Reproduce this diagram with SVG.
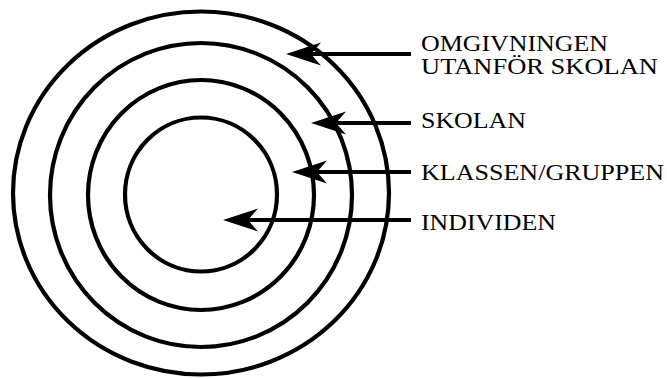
<svg xmlns="http://www.w3.org/2000/svg" width="667" height="379" viewBox="0 0 667 379">
<style>
.ring{fill:none;stroke:#000;stroke-width:4.2}
.conn{stroke:#000;stroke-width:4.2;fill:none}
.lbl{font-family:"Liberation Serif","Times New Roman",serif;font-size:24px;fill:#000}
</style>
<defs>
<marker id="ah" markerUnits="userSpaceOnUse" markerWidth="60" markerHeight="30" refX="0" refY="0" orient="auto" overflow="visible">
<path d="M22,0 L-13,-11.5 L-3,0 L-13,11.5 Z" fill="#000"/>
</marker>
</defs>
<rect width="667" height="379" fill="#fff"/>
<g id="ring-omgivningen"><ellipse class="ring" cx="201" cy="193" rx="188" ry="181.5"/></g>
<g id="ring-skolan"><ellipse class="ring" cx="201" cy="195" rx="151" ry="152"/></g>
<g id="ring-klassen"><ellipse class="ring" cx="201" cy="195" rx="113" ry="115"/></g>
<g id="ring-individen"><ellipse class="ring" cx="201" cy="194.5" rx="76" ry="77"/></g>
<g id="connectors">
<line class="conn" x1="411" y1="54" x2="308" y2="54" marker-end="url(#ah)"/>
<line class="conn" x1="411" y1="123" x2="333" y2="123" marker-end="url(#ah)"/>
<line class="conn" x1="411" y1="172" x2="314" y2="172" marker-end="url(#ah)"/>
<line class="conn" x1="411" y1="220" x2="245" y2="220" marker-end="url(#ah)"/>
</g>
<g id="label-omgivningen"><text class="lbl" x="421" y="50.5" textLength="187" lengthAdjust="spacingAndGlyphs">OMGIVNINGEN</text><text class="lbl" x="421" y="73.5" textLength="237" lengthAdjust="spacingAndGlyphs">UTANFÖR SKOLAN</text></g>
<g id="label-skolan"><text class="lbl" x="421" y="127.5" textLength="105" lengthAdjust="spacingAndGlyphs">SKOLAN</text></g>
<g id="label-klassen"><text class="lbl" x="421" y="179.5" textLength="243" lengthAdjust="spacingAndGlyphs">KLASSEN/GRUPPEN</text></g>
<g id="label-individen"><text class="lbl" x="421" y="230" textLength="135" lengthAdjust="spacingAndGlyphs">INDIVIDEN</text></g>
</svg>
